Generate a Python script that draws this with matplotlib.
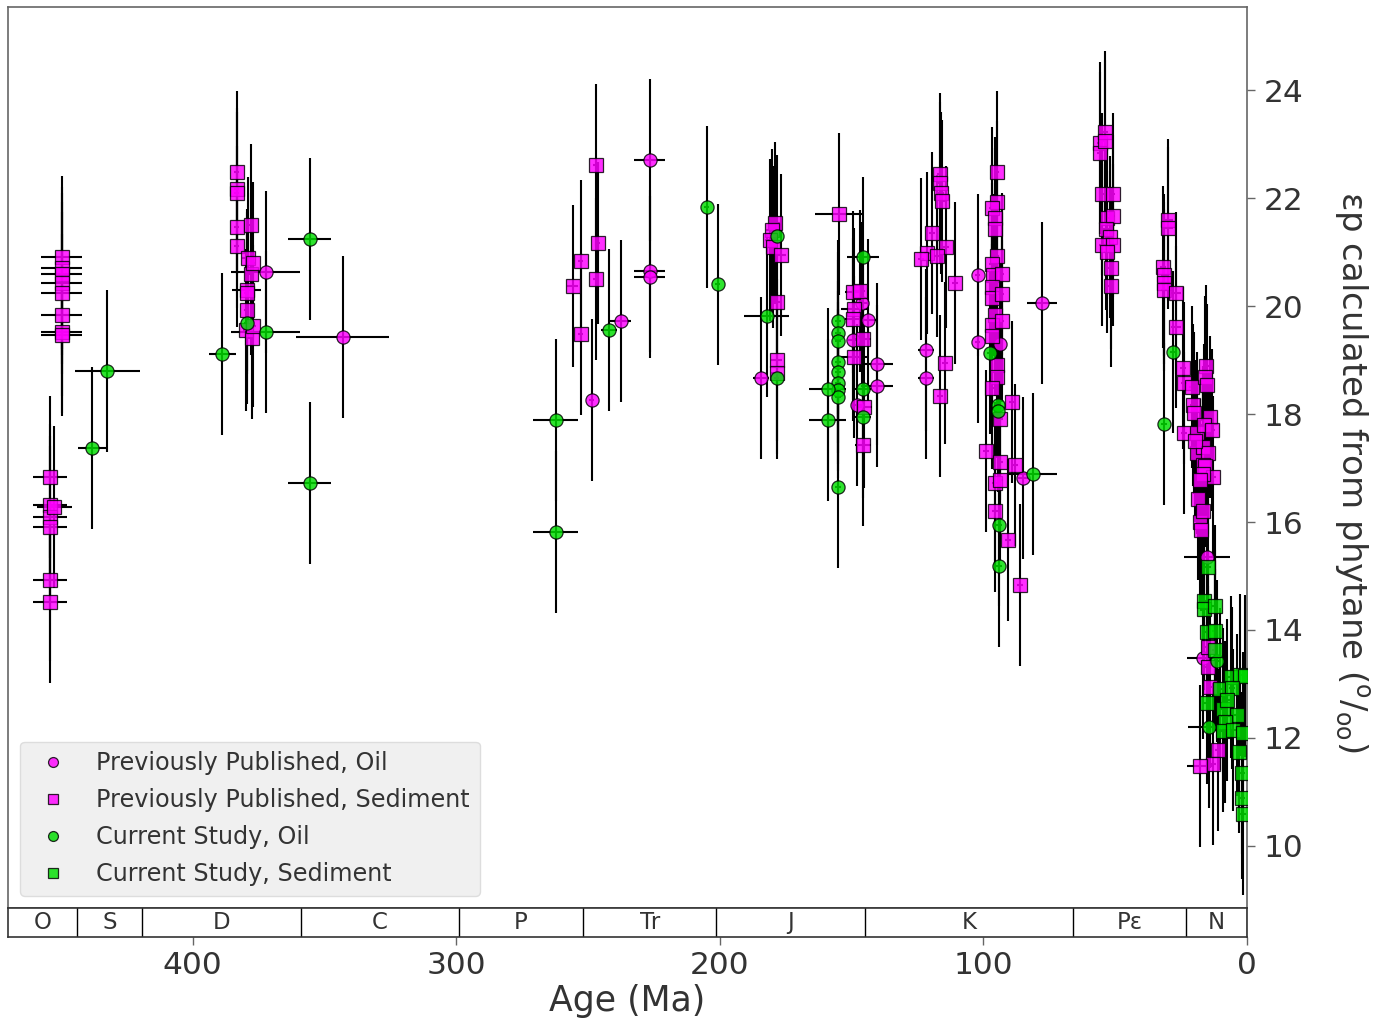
import matplotlib
matplotlib.use("Agg")
import matplotlib.pyplot as plt

# ---------------- data ----------------
# Previously Published, Oil (magenta circles)
pp_oil_age = [372.3, 343.1, 248.6, 237.6, 226.6, 226.6, 226.6, 184.4,
              146.1, 143.8, 149.5, 140.4, 140.4, 148.0,
              121.8, 121.8, 102.1, 102.1, 93.7, 85.0, 77.8,
              15.2, 16.7]
pp_oil_eps = [20.63, 19.43, 18.26, 19.72, 22.70, 20.65, 20.54, 18.67,
              20.06, 19.74, 19.37, 18.93, 18.52, 18.17,
              19.19, 18.67, 20.57, 19.33, 19.30, 16.81, 20.06,
              15.35, 13.48]
pp_oil_xerr = [13, 17.6, 1, 4, 6, 6, 6, 3,
               2, 3, 2, 6, 6, 2,
               3, 3, 1, 1, 1, 2, 5.7,
               8.7, 6]

# Previously Published, Sediment (magenta squares)
pp_sed_age = [449.7, 449.7, 449.7, 449.7, 449.7, 449.7, 449.7, 449.7,
              454.0, 454.0, 454.0, 454.0, 454.0, 454.0, 452.4,
              383.3, 383.3, 383.3, 383.3, 383.3, 378.0, 379.1, 378.0, 377.2,
              379.5, 379.5, 379.5, 379.9, 377.6, 376.9,
              247.1, 246.3, 247.1, 252.7, 255.8, 252.7,
              179.1, 180.3, 181.0, 179.9, 176.9, 178.4, 178.4, 178.4,
              154.8, 149.5, 149.1, 149.5, 145.7, 149.1, 145.4, 145.7, 146.9,
              116.5, 116.5, 116.1, 115.7, 119.5, 114.2, 121.4, 123.7, 117.6, 110.8, 114.6, 116.5,
              94.9, 94.9, 96.8, 95.6, 95.6, 94.9, 96.8, 96.4, 93.0, 96.8, 96.8, 93.0,
              95.6, 96.8, 93.0, 96.8, 94.9, 94.9, 96.8, 93.7, 89.2, 99.0, 93.7, 88.0,
              95.6, 93.7, 95.6, 90.7, 86.1,
              55.8, 53.9, 55.8, 53.9, 55.0, 50.9, 53.1, 50.9, 53.5, 52.0, 55.0, 50.9,
              53.1, 51.6, 51.6,
              30.0, 30.0, 31.9, 31.5, 31.5, 31.5, 26.9, 26.9, 24.3, 23.9, 20.9,
              15.6, 15.9, 15.2, 20.5, 20.1, 14.0, 23.9, 19.0, 16.3, 13.3, 19.0,
              16.7, 14.8, 16.7, 15.9, 12.9, 16.7, 18.6, 17.8, 19.7, 17.8, 16.7, 17.5,
              14.8, 14.8, 14.0, 11.0, 12.9, 17.8]
pp_sed_eps = [20.91, 20.70, 20.60, 20.43, 20.24, 19.83, 19.52, 19.46,
              16.83, 16.31, 16.09, 15.90, 14.93, 14.52, 16.28,
              22.48, 22.17, 22.10, 21.46, 21.11, 21.50, 20.89, 20.60, 20.80,
              20.30, 20.24, 19.93, 19.56, 19.41, 19.63,
              22.61, 21.17, 20.50, 20.83, 20.37, 19.48,
              21.54, 21.41, 21.22, 21.10, 20.95, 20.07, 19.00, 18.76,
              21.70, 20.26, 19.94, 19.76, 19.39, 19.06, 18.13, 17.43, 20.28,
              22.44, 22.28, 22.09, 21.95, 21.35, 21.09, 20.98, 20.87, 20.93, 20.43, 18.94, 18.33,
              22.48, 21.93, 21.82, 21.63, 21.43, 20.93, 20.78, 20.57, 20.60, 20.35, 20.15, 20.22,
              19.83, 19.65, 19.72, 19.44, 18.91, 18.69, 18.48, 17.91, 18.22, 17.31, 17.11, 17.06,
              16.72, 16.78, 16.20, 15.67, 14.83,
              23.02, 23.22, 22.83, 23.05, 22.07, 22.07, 21.63, 21.66, 21.43, 21.28, 21.13, 21.13,
              21.00, 20.70, 20.37,
              21.59, 21.44, 20.72, 20.57, 20.43, 20.30, 20.24, 19.61, 18.85, 18.57, 18.50,
              18.89, 18.69, 18.54, 18.17, 18.02, 17.94, 17.65, 17.65, 17.80, 17.70, 17.28,
              17.39, 17.28, 17.06, 17.04, 16.83, 16.89, 16.43, 16.00, 17.50, 16.78, 16.20, 15.85,
              13.69, 13.31, 12.94, 11.78, 11.52, 11.48]
pp_sed_xerr = [7.6] * 8 + [6.5] * 7 + \
              [1, 1, 1, 1, 1, 1, 2, 1, 1,
               5.5, 1, 1, 1, 1, 1] + \
              [1, 1, 1, 1, 2, 1] + \
              [2, 2, 2, 2, 2, 2, 2, 2] + \
              [9, 3, 5, 3, 3, 5, 3, 3, 2] + \
              [1] * 12 + \
              [1] * 29 + \
              [1] * 15 + \
              [2, 2, 1, 1, 1, 1, 2, 2, 1, 1, 1,
               1, 1, 1, 1, 1, 1, 1, 1, 1, 1, 1,
               1, 1, 1, 1, 1, 1, 1, 1, 1, 1, 1, 1,
               1, 1, 1, 1, 1, 5]

# Current Study, Oil (green circles)
cs_oil_age = [438.3, 432.3, 388.7, 379.5, 372.3, 355.6, 355.6, 262.2, 262.2, 242.1,
              204.9, 200.8, 178.4, 182.2, 178.4,
              155.2, 155.2, 155.2, 155.2, 155.2, 155.2, 155.2, 155.2, 155.2,
              159.0, 159.0, 145.7, 145.7, 145.7,
              97.5, 94.5, 94.5, 94.1, 94.1, 81.2,
              28.1, 31.5, 11.4, 14.4]
cs_oil_eps = [17.37, 18.80, 19.11, 19.69, 19.52, 21.24, 16.72, 17.89, 15.81, 19.56,
              21.83, 20.40, 21.30, 19.81, 18.67,
              19.72, 19.50, 19.35, 18.96, 18.78, 18.57, 18.44, 18.31, 16.65,
              18.46, 17.89, 20.90, 18.46, 17.94,
              19.13, 18.17, 18.06, 15.94, 15.19, 16.89,
              19.15, 17.81, 13.43, 12.20]
cs_oil_xerr = [5.3, 12.3, 5, 1, 13, 8.2, 8.2, 8.5, 8.5, 3,
               1, 1, 1, 8.5, 1,
               1, 1, 1, 1, 1, 1, 1, 1, 1,
               7, 7, 6, 3, 3,
               1, 1, 1, 1, 1, 9,
               1, 1, 1, 8]

# Current Study, Sediment (green squares)
cs_sed_age = [14.8, 16.3, 16.3, 12.1, 15.2, 12.1, 12.1, 6.1, 2.7, 0.8, 10.2, 5.7,
              15.2, 9.1, 7.6, 3.8, 8.3, 9.1, 5.3, 1.5, 3.0, 1.9, 1.9, 1.5]
cs_sed_eps = [15.17, 14.54, 14.39, 14.44, 13.96, 13.98, 13.63, 13.13, 13.17, 13.15, 12.91, 12.93,
              12.65, 12.54, 12.70, 12.43, 12.30, 12.13, 12.15, 12.09, 11.74, 11.35, 10.89, 10.59]
cs_sed_xerr = [1] * 24

EPS_ERR = 1.5  # 1-sigma uncertainty on epsilon (permil)

# Geologic periods (boundaries in Ma)
period_labels = ["O", "S", "D", "C", "P", "Tr", "J", "K", "P\u03b5", "N"]
period_starts = [485.4, 443.8, 419.2, 358.9, 298.9, 251.9, 201.3, 145.0, 66.0, 23.03]
period_ends = [443.8, 419.2, 358.9, 298.9, 251.9, 201.3, 145.0, 66.0, 23.03, 0.0]

XMAX, XMIN = 470, 0
YMIN, YMAX = 8.85, 25.54

# ---------------- style ----------------
TXT = "#333333"
EDGE = "#666666"
plt.rcParams.update({
    "font.family": ["DejaVu Sans"],
    "text.color": TXT,
    "axes.labelcolor": TXT,
    "xtick.color": EDGE,
    "ytick.color": EDGE,
    "xtick.labelcolor": TXT,
    "ytick.labelcolor": TXT,
    "axes.edgecolor": EDGE,
})

MAG = "magenta"
GRN = "#00dd00"

fig = plt.figure(figsize=(13.95, 10.23), dpi=100)
ax = fig.add_axes([8 / 1395, 1 - 908 / 1023, 1239 / 1395, 901 / 1023])
axt = fig.add_axes([8 / 1395, 1 - 937 / 1023, 1239 / 1395, 29 / 1023], sharex=ax)

series = [
    (pp_oil_age, pp_oil_eps, pp_oil_xerr, "o", MAG, "Previously Published, Oil"),
    (pp_sed_age, pp_sed_eps, pp_sed_xerr, "s", MAG, "Previously Published, Sediment"),
    (cs_oil_age, cs_oil_eps, cs_oil_xerr, "o", GRN, "Current Study, Oil"),
    (cs_sed_age, cs_sed_eps, cs_sed_xerr, "s", GRN, "Current Study, Sediment"),
]

for age, eps, xerr, mk, col, lab in series:
    ax.errorbar(age, eps, yerr=[EPS_ERR] * len(eps), xerr=xerr, fmt="none",
                ecolor="black", elinewidth=1.5, capsize=0, zorder=2)
for age, eps, xerr, mk, col, lab in series:
    ax.plot(age, eps, ls="none", marker=mk, markersize=9.5 if mk == "o" else 10,
            markerfacecolor=col, markeredgecolor="black", markeredgewidth=0.9,
            alpha=0.82, label=lab, zorder=3)

ax.set_xlim(XMAX, XMIN)
ax.set_ylim(YMIN, YMAX)
ax.yaxis.tick_right()
ax.yaxis.set_label_position("right")
ax.set_yticks([10, 12, 14, 16, 18, 20, 22, 24])
ax.tick_params(axis="y", labelsize=22.5, length=6, width=1, pad=6)
ax.tick_params(axis="x", bottom=False, labelbottom=False)
ylab = ax.set_ylabel("\u03b5p calculated from phytane ($^{\\mathrm{o}}/_{\\mathrm{oo}}$)",
                     fontsize=24.5, rotation=270)
ylab.set_horizontalalignment("center")
ylab.set_verticalalignment("center")
ax.yaxis.set_label_coords(1.0847, 0.484)
for sp in ax.spines.values():
    sp.set_linewidth(1.2)

leg = ax.legend(loc="lower left", fontsize=17.2, frameon=True, fancybox=True,
                facecolor="#f0f0f0", edgecolor="#dddddd", framealpha=1.0,
                markerscale=0.75, numpoints=1, labelspacing=0.55)

# ---------------- timescale strip ----------------
axt.set_ylim(0, 1)
axt.set_yticks([])
for s, e, lab in zip(period_starts, period_ends, period_labels):
    axt.axvline(e, color="black", lw=1.0)
    lo = min(s, XMAX)
    axt.text((lo + e) / 2, 0.5, lab, ha="center", va="center", fontsize=16.5, color=TXT)
for sp in axt.spines.values():
    sp.set_linewidth(1.2)
    sp.set_color("#333333")
axt.set_xticks([400, 300, 200, 100, 0])
axt.tick_params(axis="x", labelsize=22.5, length=6, width=1, pad=4)
axt.set_xlabel("Age (Ma)", fontsize=25, labelpad=3)
axt.set_xlim(XMAX, XMIN)

fig.savefig("out.png", dpi=100)
